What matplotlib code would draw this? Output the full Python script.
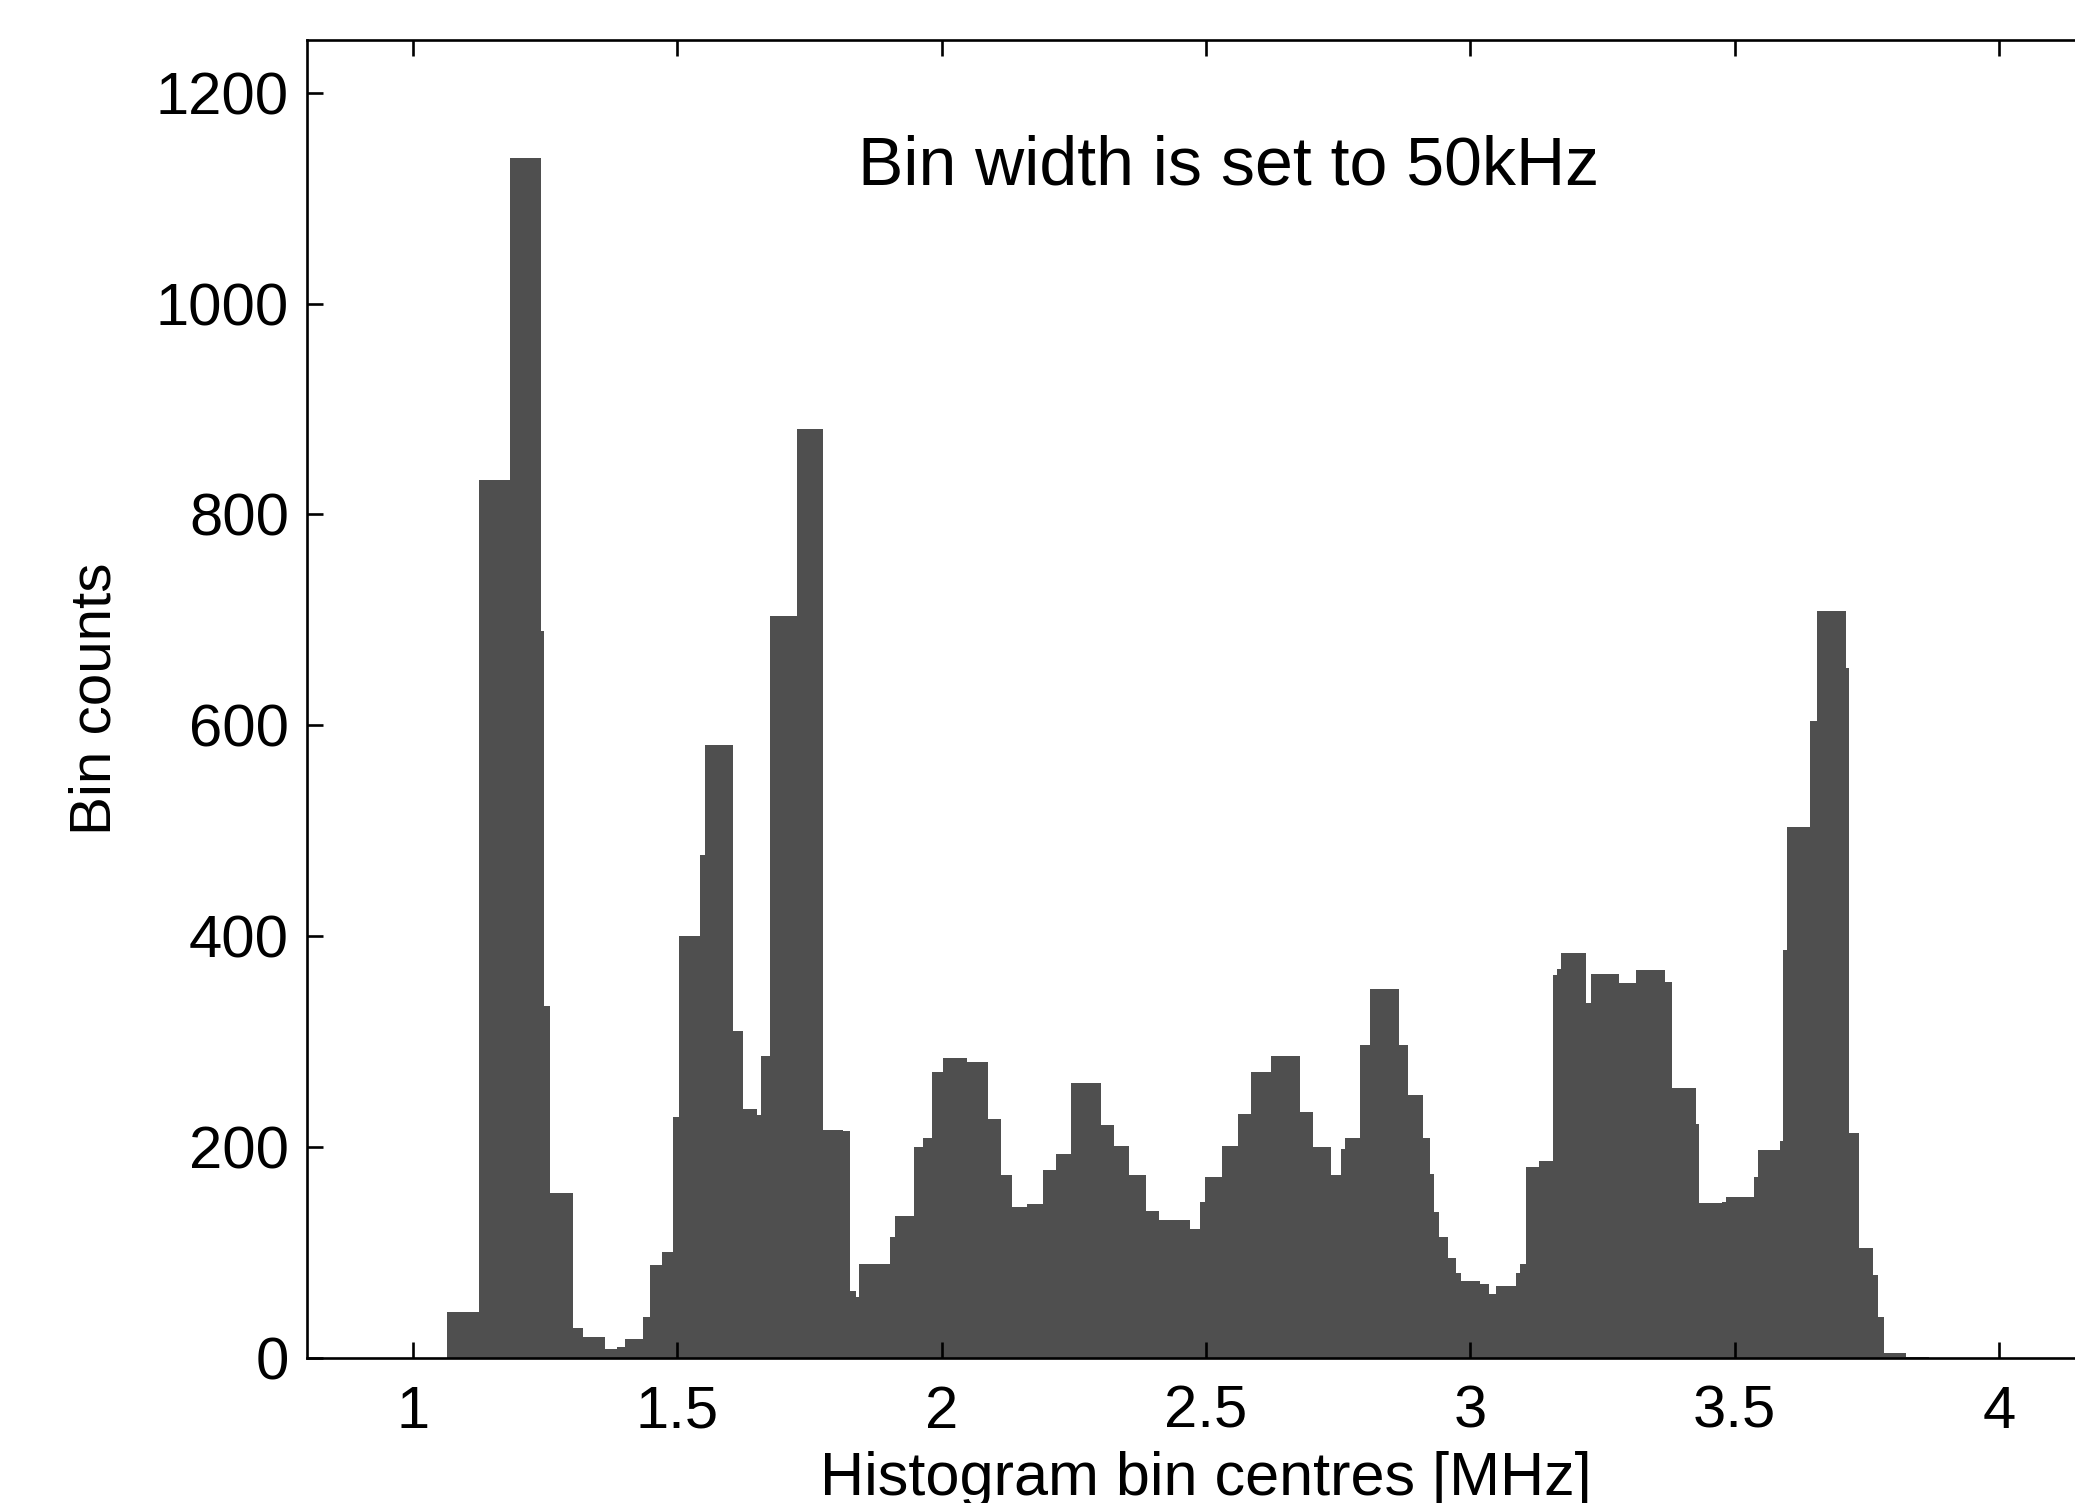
import numpy as np
import matplotlib
matplotlib.use('Agg')
from matplotlib import pyplot as plt

# bin edges [MHz] and counts
bin_edges = [1.065, 1.125, 1.183, 1.243, 1.248, 1.260, 1.303, 1.321, 1.363, 1.386,
             1.401, 1.436, 1.448, 1.471, 1.493, 1.503, 1.543, 1.553, 1.606, 1.624,
             1.651, 1.659, 1.676, 1.726, 1.776, 1.814, 1.826, 1.839, 1.844, 1.902,
             1.912, 1.947, 1.964, 1.982, 2.002, 2.049, 2.087, 2.112, 2.134, 2.162,
             2.192, 2.217, 2.245, 2.302, 2.327, 2.355, 2.387, 2.412, 2.470, 2.488,
             2.498, 2.530, 2.560, 2.585, 2.623, 2.678, 2.703, 2.736, 2.756, 2.763,
             2.791, 2.811, 2.866, 2.883, 2.911, 2.923, 2.931, 2.941, 2.958, 2.973,
             2.983, 3.019, 3.036, 3.049, 3.086, 3.094, 3.106, 3.131, 3.156, 3.164,
             3.171, 3.219, 3.229, 3.281, 3.314, 3.369, 3.382, 3.427, 3.432, 3.477,
             3.484, 3.537, 3.544, 3.585, 3.592, 3.600, 3.642, 3.655, 3.710, 3.717,
             3.735, 3.762, 3.772, 3.782, 3.825, 3.868]

bin_counts = [43, 833, 1138, 689, 334, 156, 28, 20, 8, 10,
              18, 39, 88, 100, 228, 400, 477, 581, 310, 236,
              230, 286, 704, 881, 216, 215, 63, 58, 89, 114,
              134, 200, 208, 271, 284, 280, 226, 173, 143, 146,
              178, 193, 261, 221, 201, 173, 139, 131, 122, 148,
              171, 201, 231, 271, 286, 233, 200, 173, 198, 208,
              297, 350, 297, 249, 208, 174, 138, 114, 95, 80,
              73, 70, 60, 68, 80, 89, 181, 187, 363, 369,
              384, 336, 364, 355, 368, 356, 256, 222, 147, 148,
              152, 171, 197, 206, 387, 503, 604, 708, 654, 213,
              104, 78, 39, 4, 1]

x_ticks = [1, 1.5, 2, 2.5, 3, 3.5, 4]
x_tick_labels = ['1', '1.5', '2', '2.5', '3', '3.5', '4']
y_ticks = [0, 200, 400, 600, 800, 1000, 1200]

plt.rcParams['font.family'] = ['Liberation Sans', 'DejaVu Sans']

fig = plt.figure(figsize=(20.75, 15.03), dpi=100)
ax = fig.add_axes([0.1480, 0.0967, 0.8663, 0.8767])

ax.stairs(bin_counts, bin_edges, fill=True, color='#4f4f4f', linewidth=0)

ax.set_xlim(0.8, 4.2)
ax.set_ylim(0, 1250)
ax.set_xticks(x_ticks)
ax.set_xticklabels(x_tick_labels)
ax.set_yticks(y_ticks)

ax.tick_params(direction='in', length=11.5, width=1.9, labelsize=43,
               top=True, right=True)
ax.tick_params(axis='x', pad=19.5)
ax.tick_params(axis='y', pad=13)
for sp in ax.spines.values():
    sp.set_linewidth(1.9)

ax.set_xlabel('Histogram bin centres [MHz]', fontsize=44, labelpad=8)
ax.set_ylabel('Bin counts', fontsize=42, labelpad=24)

ax.text(2.543, 1113, 'Bin width is set to 50kHz', fontsize=49,
        ha='center', va='baseline')

fig.savefig('out.png', dpi=100)
plt.close()
